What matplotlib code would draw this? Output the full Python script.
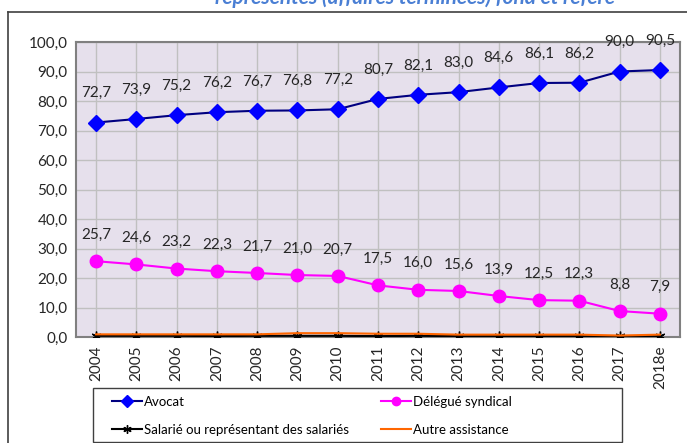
import matplotlib
matplotlib.use("Agg")
from matplotlib import pyplot as plt
from matplotlib.lines import Line2D
from matplotlib.patches import Rectangle
import numpy as np

years = ["2004", "2005", "2006", "2007", "2008", "2009", "2010", "2011",
         "2012", "2013", "2014", "2015", "2016", "2017", "2018e"]
avocat = [72.7, 73.9, 75.2, 76.2, 76.7, 76.8, 77.2, 80.7, 82.1, 83.0, 84.6, 86.1, 86.2, 90.0, 90.5]
delegue = [25.7, 24.6, 23.2, 22.3, 21.7, 21.0, 20.7, 17.5, 16.0, 15.6, 13.9, 12.5, 12.3, 8.8, 7.9]
salarie = [0.4, 0.4, 0.4, 0.3, 0.4, 0.4, 0.4, 0.3, 0.4, 0.3, 0.3, 0.3, 0.3, 0.2, 0.3]
autre = [0.9, 0.9, 0.9, 0.9, 0.9, 1.3, 1.3, 1.1, 1.1, 0.8, 0.8, 0.8, 0.8, 0.5, 0.8]

plt.rcParams['font.family'] = ['Lato', 'DejaVu Sans']

fig = plt.figure(figsize=(6.87, 4.43), dpi=100)

# title, cut off at the top of the picture as in the original
fig.text(0.604, 1.006, "représentés (affaires terminées) fond et référé",
         ha='center', va='center', fontsize=15, fontweight='bold',
         fontstyle='italic', color='#4a7fd4')

# outer frame (left and top edges)
fig.add_artist(Line2D([8/687, 8/687], [0, 1 - 12/443], color='#404040', linewidth=1.2))
fig.add_artist(Line2D([8/687, 1], [1 - 12/443, 1 - 12/443], color='#404040', linewidth=1.2))

ax = fig.add_axes([76/687, 1 - 337/443, 604/687, 295/443])
ax.set_facecolor('#e6e0ec')
x = np.arange(len(years))

l1, = ax.plot(x, avocat, color='#000080', linewidth=1.5, marker='D', markersize=8,
              markerfacecolor='#0000ff', markeredgecolor='#0000ff', label='Avocat', zorder=4)
l2, = ax.plot(x, delegue, color='#ff00ff', linewidth=1.5, marker='o', markersize=9,
              markerfacecolor='#ff00ff', markeredgecolor='#ff00ff', label='Délégué syndical', zorder=4)
l3, = ax.plot(x, salarie, color='black', linewidth=1.5, marker=(6, 2, 0), markersize=7,
              label='Salarié ou représentant des salariés', zorder=3)
l4, = ax.plot(x, autre, color='#ff6600', linewidth=1.5, label='Autre assistance', zorder=3)

for i in range(len(years)):
    ax.annotate(f"{avocat[i]:.1f}".replace('.', ','), (x[i], avocat[i]),
                xytext=(0, 16), textcoords='offset points', ha='center',
                va='bottom', fontsize=11, color='#262626')
    ax.annotate(f"{delegue[i]:.1f}".replace('.', ','), (x[i], delegue[i]),
                xytext=(0, 14), textcoords='offset points', ha='center',
                va='bottom', fontsize=11, color='#262626')

ax.set_xlim(-0.5, len(years) - 0.5)
ax.set_ylim(0, 100)
ax.set_yticks(np.arange(0, 101, 10))
ax.set_yticklabels([f"{v:.1f}".replace('.', ',') for v in np.arange(0, 101, 10)], fontsize=11)
ax.set_xticks(x)
ax.set_xticklabels(years, rotation=90, fontsize=11)
ax.tick_params(axis='both', length=0, pad=6, colors='#262626')
ax.grid(True, color='#c0c0c0', linewidth=1)
ax.set_axisbelow(True)
for s in ax.spines.values():
    s.set_color('#808080')
    s.set_linewidth(1.5)

# legend box drawn separately, it is wider than its entries
fig.add_artist(Rectangle((93/687, 1 - 442/443), 529/687, 54/443, transform=fig.transFigure,
                         fill=False, edgecolor='#404040', linewidth=1.0))

# legend filled row by row: Avocat, Délégué / Salarié, Autre
leg = fig.legend([l1, l3, l2, l4], [l1.get_label(), l3.get_label(), l2.get_label(), l4.get_label()],
                 loc='upper left', bbox_to_anchor=(112/687, 1 - 396/443),
                 ncol=2, fontsize=9.5, frameon=False, handlelength=2.3,
                 handletextpad=0.15, columnspacing=2.4, borderaxespad=0,
                 borderpad=0, labelspacing=1.2)
for h in leg.legend_handles:
    h.set_markersize(6)

plt.savefig("out.png", dpi=100)
